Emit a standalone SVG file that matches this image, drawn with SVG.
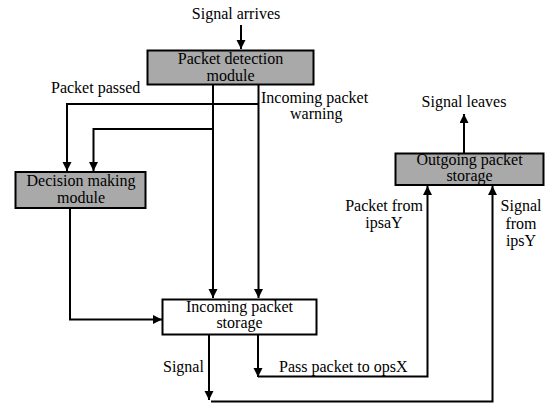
<svg xmlns="http://www.w3.org/2000/svg" width="546" height="404" viewBox="0 0 546 404">
<style>
text{font-family:"Liberation Serif","Times New Roman",serif;font-size:16px;fill:#000}
.c{text-anchor:middle}
.box{stroke:#000;stroke-width:2}
.g{fill:#a9a9a9}
.w{fill:#fff}
.ln{fill:none;stroke:#000;stroke-width:2}
.ar{marker-end:url(#ah)}
</style>
<defs>
<marker id="ah" markerUnits="userSpaceOnUse" markerWidth="10" markerHeight="10" refX="9" refY="4.5" orient="auto">
<path d="M0,0 L9,4.5 L0,9 z" fill="#000"/>
</marker>
</defs>
<rect width="546" height="404" fill="#fff"/>
<g id="connectors">
<path class="ln ar" d="M241,25 V49"/>
<path class="ln ar" d="M213,85 V298"/>
<path class="ln ar" d="M258.5,85 V298"/>
<path class="ln ar" d="M258.5,104 H67 V171"/>
<path class="ln ar" d="M213,129 H93.5 V171"/>
<path class="ln ar" d="M70,208 V319.5 H162"/>
<path class="ln ar" d="M258,335 V377"/>
<path class="ln ar" d="M258,376.5 H427.5 V186"/>
<path class="ln ar" d="M209,335 V400"/>
<path class="ln ar" d="M211,401.5 H492.5 V186"/>
<path class="ln ar" d="M464,153 V114"/>
</g>
<g id="packet-detection">
<rect class="box g" x="147.5" y="50.5" width="166" height="34"/>
<text class="c" x="230.5" y="64">Packet detection</text>
<text class="c" x="230.5" y="81">module</text>
</g>
<g id="decision-making">
<rect class="box g" x="15.5" y="172" width="130" height="36"/>
<text class="c" x="81" y="186">Decision making</text>
<text class="c" x="81" y="203">module</text>
</g>
<g id="outgoing-storage">
<rect class="box g" x="395.5" y="153.5" width="148" height="31.5"/>
<text class="c" x="469.5" y="165">Outgoing packet</text>
<text class="c" x="469.5" y="181">storage</text>
</g>
<g id="incoming-storage">
<rect class="box w" x="162.5" y="299.5" width="154" height="35"/>
<text class="c" x="239.5" y="312">Incoming packet</text>
<text class="c" x="239.5" y="328">storage</text>
</g>
<g id="labels">
<text class="c" x="236" y="19">Signal arrives</text>
<text x="51" y="93">Packet passed</text>
<text x="261" y="103">Incoming packet</text>
<text x="290" y="119">warning</text>
<text class="c" x="464" y="107">Signal leaves</text>
<text class="c" x="384" y="211">Packet from</text>
<text class="c" x="384" y="228">ipsaY</text>
<text class="c" x="521" y="211">Signal</text>
<text class="c" x="521" y="228.5">from</text>
<text class="c" x="521" y="246">ipsY</text>
<text x="163" y="372">Signal</text>
<text x="279" y="372">Pass packet to opsX</text>
</g>
</svg>
